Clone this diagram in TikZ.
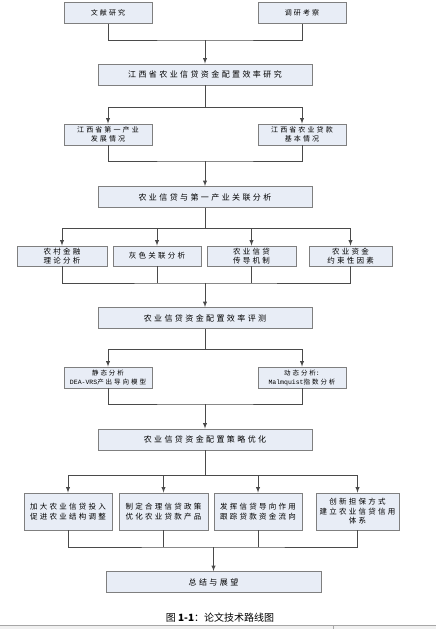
\documentclass[tikz,border=0pt]{standalone}
\usepackage{fontspec}
\setmainfont{Noto Sans CJK SC}
\newfontfamily\cjk[LetterSpace=30]{Noto Sans CJK SC}
\newfontfamily\latinmono{Liberation Mono}
\usepackage{xcolor}
\usetikzlibrary{arrows}
\usetikzlibrary{calc}
\usetikzlibrary{positioning}
\definecolor{boxfill}{HTML}{E8EDF6}
\definecolor{boxline}{HTML}{7F7F7F}
\definecolor{linkline}{HTML}{4A4A4A}

\begin{document}
\begin{tikzpicture}[x=1pt,y=-1pt,>=latex]
  \tikzstyle{box}=[draw=boxline, fill=boxfill, line width=0.8pt, inner sep=0pt, align=center]
  \tikzstyle{bigbox}=[box, minimum width=214pt, minimum height=21pt, font=\cjk\fontsize{8}{10}\selectfont]
  \tikzstyle{smallbox}=[box, minimum width=88pt, minimum height=21pt, font=\cjk\fontsize{7}{9}\selectfont]
  \tikzstyle{midbox}=[box, minimum width=88pt, minimum height=20pt, font=\cjk\fontsize{7.5}{9}\selectfont]
  \tikzstyle{tallbox}=[box, minimum width=88pt, minimum height=37pt, font=\cjk\fontsize{7.5}{9.5}\selectfont]
  \tikzstyle{link}=[draw=linkline, line width=0.9pt]
  \useasboundingbox (0,0) rectangle (436,629);

  \node[smallbox] (lit)    at (108,13) {文献研究};
  \node[smallbox] (survey) at (302,13) {调研考察};
  \node[bigbox]   (main)   at (205,74.5) {江西省农业信贷资金配置效率研究};
  \node[smallbox] (first)  at (108,134.5) {江西省第一产业\\发展情况};
  \node[smallbox] (loan)   at (302,134.5) {江西省农业贷款\\基本情况};
  \node[bigbox]   (rel)    at (205,197) {农业信贷与第一产业关联分析};
  \node[midbox, minimum width=90pt] (theory) at (62,256) {农村金融\\理论分析};
  \node[midbox]                     (grey)   at (157,256) {灰色关联分析};
  \node[midbox, minimum width=89pt] (mech)   at (251.5,256) {农业信贷\\传导机制};
  \node[midbox, minimum width=83pt] (limit)  at (350.5,256) {农业资金\\约束性因素};
  \node[bigbox]   (eval)   at (205,318) {农业信贷资金配置效率评测};
  \node[smallbox, font=\cjk\fontsize{6.5}{9}\selectfont] (static)  at (108,377.5) {静态分析\\{\latinmono DEA-VRS}产出导向模型};
  \node[smallbox, font=\cjk\fontsize{6.5}{9}\selectfont] (dynamic) at (302,377.5) {动态分析{\latinmono :}\\{\latinmono Malmquist}指数分析};
  \node[bigbox]   (opt)    at (205,439.5) {农业信贷资金配置策略优化};
  \node[tallbox]                     (input)  at (68,511.5) {加大农业信贷投入\\促进农业结构调整};
  \node[tallbox, minimum width=89pt] (policy) at (163.5,511.5) {制定合理信贷政策\\优化农业贷款产品};
  \node[tallbox]                     (guide)  at (258,511.5) {发挥信贷导向作用\\跟踪贷款资金流向};
  \node[tallbox, minimum width=83pt] (credit) at (357.5,511.5) {创新担保方式\\建立农业信贷信用\\体系};
  \node[bigbox, minimum width=215pt] (sum)    at (213.5,582) {总结与展望};
  \node[font=\fontsize{10}{12}\selectfont] (cap) at (220,618) {图 \textbf{1-1}：论文技术路线图};

  \coordinate (j1) at (205,40);
  \coordinate (j2) at (205,107);
  \coordinate (j3) at (205,161);
  \coordinate (j4) at (205,228);
  \coordinate (j5) at (205,283);
  \coordinate (j6) at (205,349);
  \coordinate (j7) at (205,404);
  \coordinate (j8) at (205,475);
  \coordinate (j9) at (213.5,547);

  \draw[link] (lit) |- (j1) -| (survey);
  \draw[link,->] (j1) -- (main);
  \draw[link] (main) -- (j2);
  \draw[link,->] (j2) -| (first);
  \draw[link,->] (j2) -| (loan);
  \draw[link] (first) |- (j3) -| (loan);
  \draw[link,->] (j3) -- (rel);
  \draw[link] (rel) -- (j4);
  \draw[link,->] (j4) -| (theory);
  \draw[link,->] (j4) -| (grey);
  \draw[link,->] (j4) -| (mech);
  \draw[link,->] (j4) -| (limit);
  \draw[link] (theory) |- (j5) -| (limit);
  \draw[link] (grey) -- (grey |- j5);
  \draw[link] (mech) -- (mech |- j5);
  \draw[link,->] (j5) -- (eval);
  \draw[link] (eval) -- (j6);
  \draw[link,->] (j6) -| (static);
  \draw[link,->] (j6) -| (dynamic);
  \draw[link] (static) |- (j7) -| (dynamic);
  \draw[link,->] (j7) -- (opt);
  \draw[link] (opt) -- (j8);
  \draw[link,->] (j8) -| (input);
  \draw[link,->] (j8) -| (policy);
  \draw[link,->] (j8) -| (guide);
  \draw[link,->] (j8) -| (credit);
  \draw[link] (input) |- (j9) -| (credit);
  \draw[link] (policy) -- (policy |- j9);
  \draw[link] (guide) -- (guide |- j9);
  \draw[link,->] (j9) -- (sum);

  \fill[gray!12] (0,625) rectangle (436,629);
  \draw[gray!70, line width=0.6pt] (0,625) -- (436,625);
  \draw[gray!70, line width=0.6pt] (333,625) -- (333,629);
\end{tikzpicture}
\end{document}
